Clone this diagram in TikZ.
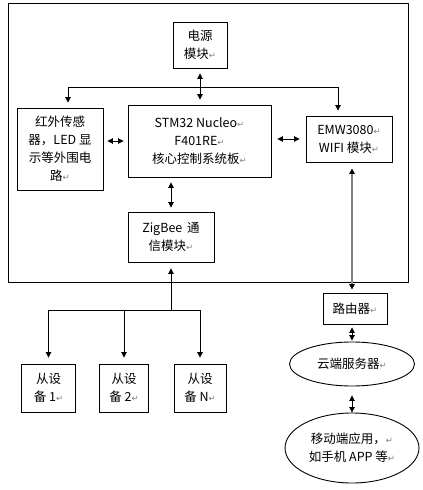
\documentclass[tikz,border=0pt]{standalone}
\usepackage{fontspec}
\setmainfont{Noto Sans CJK SC}
\newfontfamily\retfont{DejaVu Sans}
\usetikzlibrary{arrows.meta,shapes.geometric}
\newcommand{\ret}{{\retfont\fontsize{8.5}{8.5}\selectfont\color{gray}↵}}

\tikzset{
        box/.style={draw, rectangle, align=center, inner sep=0pt, font=\fontsize{12.5}{18}\selectfont},
        oval/.style={draw, ellipse, align=center, inner sep=0pt, font=\fontsize{12.5}{18}\selectfont},
        tip/.style={-{Triangle[length=5.5pt,width=5.5pt]}},
        both/.style={{Triangle[length=5.5pt,width=5.5pt]}-{Triangle[length=5.5pt,width=5.5pt]}},
        wire/.style={draw=gray, line width=1.4pt,
                {Triangle[length=5.5pt,width=5.5pt,color=black]}-{Triangle[length=5.5pt,width=5.5pt,color=black]}}
}

\begin{document}
\begin{tikzpicture}[x=1pt, y=-1pt, line width=0.9pt]
        \useasboundingbox (0,0) rectangle (423,490);
        \draw (8,3) rectangle (408,282);

        \node[box, minimum width=54pt, minimum height=46pt] at (200,45) (power) {电源\\模块\ret};
        \node[box, minimum width=86pt, minimum height=82pt] at (60,149) (sensor) {红外传感\\器，LED 显\\示等外围电\\路\ret};
        \node[box, minimum width=143pt, minimum height=72pt] at (199.5,141) (stm) {STM32 Nucleo\ret\\F401RE\ret\\核心控制系统板\ret};
        \node[box, minimum width=86pt, minimum height=46pt] at (349,139) (wifi) {EMW3080\ret\\WIFI 模块\ret};
        \node[box, minimum width=86pt, minimum height=50pt] at (171,237) (zig) {ZigBee \,通\\信模块\ret};

        \node[box, minimum width=54pt, minimum height=48pt] at (48.5,388) (s1) {从设\\备 1\ret};
        \node[box, minimum width=49pt, minimum height=48pt] at (124,388) (s2) {从设\\备 2\ret};
        \node[box, minimum width=52pt, minimum height=48pt] at (200,388) (s3) {从设\\备 N\ret};

        \node[box, minimum width=64pt, minimum height=31pt] at (355,308.5) (router) {路由器\ret};
        \node[oval, minimum width=125pt, minimum height=44pt] at (352,364) (cloud) {云端服务器\ret};
        \node[oval, minimum width=134pt, minimum height=70pt] at (352,448) (mobile) {移动端应用，\ret\\如手机 APP 等\ret};

        \coordinate (bl) at (68,87);
        \coordinate (br) at (338,87);
        \coordinate (bus) at (171,310);

        % inside the board
        \draw[both, shorten <=5pt, shorten >=5pt] (power.south) -- (power.south |- stm.north);
        \draw (bl) -- (br);
        \draw[tip, shorten >=5pt] (bl) -- (bl |- sensor.north);
        \draw[tip, shorten >=5pt] (br) -- (br |- wifi.north);
        \draw[both, shorten <=4pt, shorten >=4pt] (sensor.east |- stm.west) -- (stm.west);
        \draw[both, shorten <=6pt, shorten >=6pt] (stm.east |- wifi.west) -- (wifi.west);
        \draw[both, shorten <=5pt, shorten >=4pt] (stm.south -| zig.north) -- (zig.north);

        % slave devices
        \draw[tip, shorten >=6pt] (bus) -- (zig.south);
        \draw (s1.north |- bus) -- (s3.north |- bus);
        \foreach \s in {s1,s2,s3}
                \draw[tip, shorten >=6pt] (\s.north |- bus) -- (\s.north);

        % network side
        \draw[wire, shorten <=6pt, shorten >=3pt] (wifi.south -| cloud.north) -- (cloud.north |- router.north);
        \draw[both, shorten <=3pt, shorten >=1pt] (cloud.north |- router.south) -- (cloud.north);
        \draw[both, shorten <=9pt, shorten >=0pt] (cloud.south) -- (mobile.north);
\end{tikzpicture}
\end{document}
